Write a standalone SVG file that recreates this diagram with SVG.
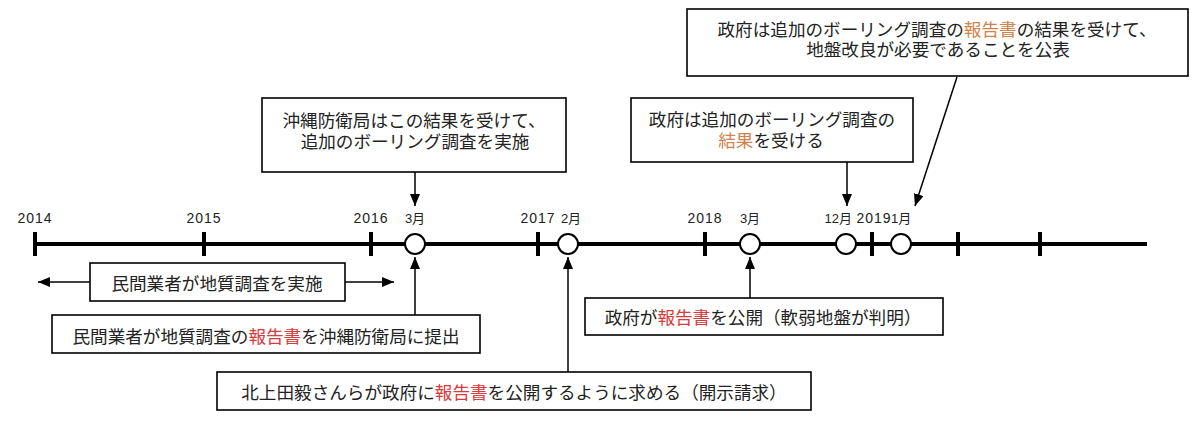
<svg xmlns="http://www.w3.org/2000/svg" width="1200" height="429" viewBox="0 0 1200 429">
<defs>
<marker id="ah" viewBox="0 0 12 10" refX="12" refY="5" markerWidth="12" markerHeight="10" markerUnits="userSpaceOnUse" orient="auto">
<path d="M0,0 L12,5 L0,10 Z" fill="#000"/>
</marker>
<style>
.box{fill:#fff;stroke:#000;stroke-width:1.6}
.jp{font-family:"Noto Sans CJK JP","Noto Sans",sans-serif;font-size:17.6px;fill:#222;text-anchor:middle}
.yr{font-family:"Liberation Sans","Noto Sans CJK JP",sans-serif;font-size:14px;fill:#222;letter-spacing:1px}
.mo{font-family:"Liberation Sans","Noto Sans CJK JP",sans-serif;font-size:13px;fill:#222}
.red{fill:#d93a3a}
.org{fill:#d0834a}
.tick{stroke:#000;stroke-width:4}
.ev{fill:#fff;stroke:#000;stroke-width:2}
.con{stroke:#000;stroke-width:1.5;fill:none;marker-end:url(#ah)}
</style>
</defs>
<rect width="1200" height="429" fill="#fff"/>

<g id="timeline">
<line x1="35" y1="244" x2="1147" y2="244" stroke="#000" stroke-width="4"/>
<line class="tick" x1="35" y1="232" x2="35" y2="256"/>
<line class="tick" x1="204" y1="232" x2="204" y2="256"/>
<line class="tick" x1="371" y1="232" x2="371" y2="256"/>
<line class="tick" x1="538" y1="232" x2="538" y2="256"/>
<line class="tick" x1="705" y1="232" x2="705" y2="256"/>
<line class="tick" x1="872" y1="232" x2="872" y2="256"/>
<line class="tick" x1="958" y1="232" x2="958" y2="256"/>
<line class="tick" x1="1040" y1="232" x2="1040" y2="256"/>
<circle class="ev" cx="415" cy="244" r="10"/>
<circle class="ev" cx="568" cy="244" r="10"/>
<circle class="ev" cx="750" cy="244" r="10"/>
<circle class="ev" cx="846" cy="244" r="10"/>
<circle class="ev" cx="901" cy="244" r="10"/>
<text class="yr" x="35" y="223" text-anchor="middle">2014</text>
<text class="yr" x="204" y="223" text-anchor="middle">2015</text>
<text class="yr" x="371" y="223" text-anchor="middle">2016</text>
<text class="yr" x="538" y="223" text-anchor="middle">2017</text>
<text class="yr" x="705" y="223" text-anchor="middle">2018</text>
<text class="yr" x="874" y="223" text-anchor="middle">2019</text>
<text class="mo" x="415" y="223" text-anchor="middle">3月</text>
<text class="mo" x="571" y="223" text-anchor="middle">2月</text>
<text class="mo" x="750" y="223" text-anchor="middle">3月</text>
<text class="mo" x="852" y="223" text-anchor="end">12月</text>
<text class="mo" x="891" y="223">1月</text>
</g>

<g id="connectors">
<line class="con" x1="415" y1="172" x2="415" y2="206"/>
<line class="con" x1="847" y1="162" x2="847" y2="206"/>
<line class="con" x1="957" y1="77" x2="915" y2="206"/>
<line class="con" x1="415" y1="315" x2="415" y2="257"/>
<line class="con" x1="750" y1="298" x2="750" y2="257"/>
<line class="con" x1="568" y1="372" x2="568" y2="257"/>
<line class="con" x1="90" y1="282" x2="38" y2="282"/>
<line class="con" x1="345" y1="282" x2="394" y2="282"/>
</g>

<g id="node-top-right">
<rect class="box" x="687" y="9" width="501" height="67"/>
<text class="jp" x="937" y="36">政府は追加のボーリング調査の<tspan class="org">報告書</tspan>の結果を受けて、</text>
<text class="jp" x="938" y="56">地盤改良が必要であることを公表</text>
</g>

<g id="node-okinawa">
<rect class="box" x="262" y="98" width="304" height="74"/>
<text class="jp" x="414" y="127">沖縄防衛局はこの結果を受けて、</text>
<text class="jp" x="415" y="148">追加のボーリング調査を実施</text>
</g>

<g id="node-gov-result">
<rect class="box" x="631" y="98" width="282" height="64"/>
<text class="jp" x="772" y="126">政府は追加のボーリング調査の</text>
<text class="jp" x="771" y="147"><tspan class="org">結果</tspan>を受ける</text>
</g>

<g id="node-survey">
<rect class="box" x="90" y="263" width="255" height="38"/>
<text class="jp" x="217" y="290">民間業者が地質調査を実施</text>
</g>

<g id="node-submit">
<rect class="box" x="52" y="315" width="428" height="38"/>
<text class="jp" x="266" y="343">民間業者が地質調査の<tspan class="red">報告書</tspan>を沖縄防衛局に提出</text>
</g>

<g id="node-publish">
<rect class="box" x="585" y="298" width="358" height="37"/>
<text class="jp" x="763" y="324">政府が<tspan class="red">報告書</tspan>を公開（軟弱地盤が判明）</text>
</g>

<g id="node-request">
<rect class="box" x="217" y="372" width="594" height="38"/>
<text class="jp" x="514" y="399">北上田毅さんらが政府に<tspan class="red">報告書</tspan>を公開するように求める（開示請求）</text>
</g>
</svg>
